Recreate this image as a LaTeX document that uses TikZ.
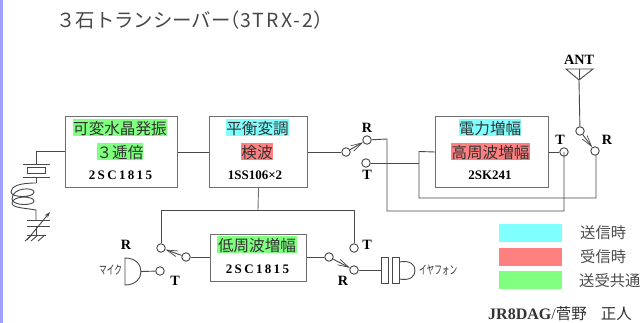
\documentclass[tikz,border=0pt]{standalone}
\usepackage{fontspec}
\setmainfont{Liberation Serif}
\newfontfamily\jp{Noto Sans CJK JP}
\newfontfamily\jpsp{Noto Sans CJK JP}[LetterSpace=11]
\newfontfamily\serbs{Liberation Serif}[LetterSpace=18]
\usetikzlibrary{arrows.meta}
\definecolor{wirec}{HTML}{484848}
\definecolor{boxc}{HTML}{6E6E6E}
\definecolor{cy}{HTML}{80FFFF}
\definecolor{rd}{HTML}{FF8080}
\definecolor{gr}{HTML}{80FF80}
\tikzset{
  x=1pt,y=-1pt,
  wire/.style={draw=wirec,line width=0.9pt},
  block/.style={draw=boxc,line width=1pt,fill=white,anchor=north west,inner sep=0pt},
  jtag/.style={inner sep=0pt,font=\jp\fontsize{15.6}{16}\selectfont,text=black!80,minimum height=17pt,text depth=0pt},
  hlc/.style={jtag,fill=cy},
  hlr/.style={jtag,fill=rd},
  hlg/.style={jtag,fill=gr},
  part/.style={inner sep=0pt,font=\bfseries\fontsize{13}{14}\selectfont,text=black},
  partw/.style={inner sep=0pt,font=\serbs\bfseries\fontsize{13}{14}\selectfont,text=black},
  sw/.style={circle,draw=wirec,line width=0.9pt,fill=white,minimum size=8.5pt,inner sep=0pt},
  letter/.style={inner sep=0pt,font=\bfseries\fontsize{14.2}{15}\selectfont,text=black},
  legend/.style={anchor=north west,inner sep=0pt,minimum width=63pt,minimum height=18pt},
  legtxt/.style={anchor=west,inner sep=0pt,font=\jp\fontsize{15.3}{16}\selectfont,text=black!70},
  kana/.style={anchor=west,inner sep=0pt,font=\jp\fontsize{12}{13}\selectfont,text=black!80,xscale=0.64},
  lever/.style={wire,-{Straight Barb[length=11pt,width=6pt,line width=0.7pt]}},
}
\begin{document}
\begin{tikzpicture}
\useasboundingbox (0,0) rectangle (641,323);
\fill[white] (0,0) rectangle (641,323);
\fill[fill={rgb,255:red,160;green,160;blue,255}] (0,0) rectangle (2.5,323);
\node[anchor=west,inner sep=0pt,font=\jp\fontsize{19.4}{21}\selectfont,text=black!72] (title) at (56,20) {３石トランシーバー\hspace{-10pt}（{\jpsp 3TRX-2}）};

% blocks
\node[block,minimum width=112pt,minimum height=71pt] (b1) at (65,116) {};
\node[block,minimum width=98pt,minimum height=71pt] (b2) at (209,116) {};
\node[block,minimum width=113pt,minimum height=71pt] (b3) at (435,116) {};
\node[block,minimum width=96pt,minimum height=47pt] (b4) at (210,234) {};

\node[hlg,minimum width=94pt] (t1a) at (120,127.5) {可変水晶発振};
\node[hlg,minimum width=46pt] (t1b) at (120,151.5) {３逓倍};
\node[partw] (t1c) at (120.5,175) {2SC1815};
\node[hlc,minimum width=63pt] (t2a) at (257.5,127.5) {平衡変調};
\node[hlr,minimum width=31pt] (t2b) at (257,151.5) {検波};
\node[part] (t2c) at (255,175) {1SS106×2};
\node[hlc,minimum width=62pt] (t3a) at (490,127.5) {電力増幅};
\node[hlr,minimum width=79pt] (t3b) at (490.5,151.5) {高周波増幅};
\node[part] (t3c) at (490,175) {2SK241};
\node[hlg,minimum width=80pt] (t4a) at (257,245) {低周波増幅};
\node[partw] (t4c) at (257.5,269) {2SC1815};

% switches
\node[sw] (s1p) at (346,152) {};
\node[sw] (s1r) at (367,140) {};
\node[sw] (s1t) at (366,163) {};
\node[letter] (s1rl) at (367,128) {R};
\node[letter] (s1tl) at (367,175) {T};
\node[sw] (s2t) at (564,152) {};
\node[sw] (s2p) at (580,131) {};
\node[sw] (s2r) at (595,151) {};
\node[letter] (s2tl) at (560,140) {T};
\node[letter] (s2rl) at (607,140) {R};
\node[sw] (s3r) at (161,248) {};
\node[sw] (s3p) at (186,257) {};
\node[sw] (s3t) at (160,271) {};
\node[letter] (s3rl) at (126,245) {R};
\node[letter] (s3tl) at (175,281) {T};
\node[sw] (s4t) at (354,248) {};
\node[sw] (s4p) at (329,257) {};
\node[sw] (s4r) at (354,270) {};
\node[letter] (s4tl) at (367,245) {T};
\node[letter] (s4rl) at (343,281) {R};

% levers
\draw[lever] (s1p) -- (s1r);
\draw[lever] (s2p) -- (s2r);
\draw[lever] (s3p) -- (s3r);
\draw[lever] (s4p) -- (s4r);

% coordinates for routing
\coordinate (xtaltop) at (36,164);
\coordinate (b1l) at (36,151.5);
\coordinate (rj) at (387,139);
\coordinate (rb) at (387,211);
\coordinate (tb) at (564,211);
\coordinate (in) at (419,151.5);
\coordinate (inb) at (419,198);
\coordinate (rinb) at (596,198);
\coordinate (rint) at (596,155);
\coordinate (tint) at (419,163);
\coordinate (d2) at (258,210);
\coordinate (d2l) at (161,210);
\coordinate (d2r) at (354,210);

% wires
\draw[wire] (b1.west |- b1l) -- (b1l) -- (xtaltop);
\draw[wire] (b1.east) -- (b2.west);
\draw[wire] (b2.east) -- (s1p);
\draw[wire] (s1r) -- (rj) -- (rb) -- (tb) -- (s2t.center);
\draw[wire] (s1t) -- (tint);
\draw[wire] (b3.west) -- (in) -- (inb) -- (rinb) -- (rint);
\draw[wire] (b3.east) -- (s2t);
\draw[wire,draw=boxc] (b2.south) -- (d2);
\draw[wire] (s3r) -- (d2l) -- (d2r) -- (s4t);
\draw[wire] (s3p) -- (s3p -| b4.west);
\draw[wire] (s4p) -- (s4p -| b4.east);

% antenna
\node[letter] (antl) at (579,60) {ANT};
\coordinate (antap) at (579,80);
\draw[wire] (566,69) -- (593,69) -- (antap) -- cycle;
\draw[wire] (antap) -- (579,69);
\draw[wire] (antap) -- (s2p);

% crystal, coil, variable capacitor
\draw[wire] (23,164) -- (50,164);
\draw[wire] (27,167.5) rectangle (45.5,173);
\draw[wire] (23,177) -- (50,177);
\draw[wire] (36,177) -- (36,183);
\draw[wire] (36,183) .. controls (20,183) and (11,186) .. (11,192)
  .. controls (11,198) and (34,198) .. (34,192)
  .. controls (34,187) and (12,187) .. (12,199)
  .. controls (12,206) and (34,206) .. (34,201)
  .. controls (34,196) and (13,195) .. (12,203)
  .. controls (12,208) and (25,208) .. (36,210) -- (36,220);
\draw[wire] (27,220) -- (50,220);
\draw[wire] (27,226) -- (50,226);
\draw[wire] (36,226) -- (36,235);
\draw[wire,-{Stealth[length=6pt,width=4pt]}] (27,240) -- (50,212);
\draw[wire] (27,235) -- (46,235);
\draw[wire] (32,235) -- (25,241) (38,235) -- (31,241) (45,235) -- (38,241);

% microphone
\draw[wire] (125,258) .. controls (136,258) and (141,265) .. (141,271.5)
  .. controls (141,278) and (136,285) .. (125,285) -- cycle;
\coordinate (mico) at (141,271.5);
\draw[wire] (mico) -- (s3t);
\node[kana] (miclab) at (99,270) {マイク};

% earphone
\coordinate (epi) at (381,270);
\draw[wire] (s4r) -- (epi);
\draw[wire] (381,257) rectangle (388,283);
\draw[wire] (392,257) rectangle (399,283);
\draw[wire] (399,262) .. controls (411,260) and (415,265) .. (415,270.5)
  .. controls (415,276) and (411,281) .. (399,279);
\node[kana] (eplab) at (419,270) {イヤフォン};

% legend
\node[legend,fill=cy] (l1) at (499,224) {};
\node[legend,fill=rd] (l2) at (499,247.5) {};
\node[legend,fill=gr] (l3) at (499,271) {};
\node[legtxt] (lt1) at (580,233) {送信時};
\node[legtxt] (lt2) at (580,257) {受信時};
\node[legtxt] (lt3) at (579,280.5) {送受共通};

% credit
\node[anchor=base west,inner sep=0pt,text=black!80] (cr) at (488,320) {{\bfseries\fontsize{16}{17}\selectfont JR8DAG}{\fontsize{16}{17}\selectfont /}{\jp\fontsize{15.5}{16}\selectfont 菅野\hspace{14pt}正人}};
\end{tikzpicture}
\end{document}
